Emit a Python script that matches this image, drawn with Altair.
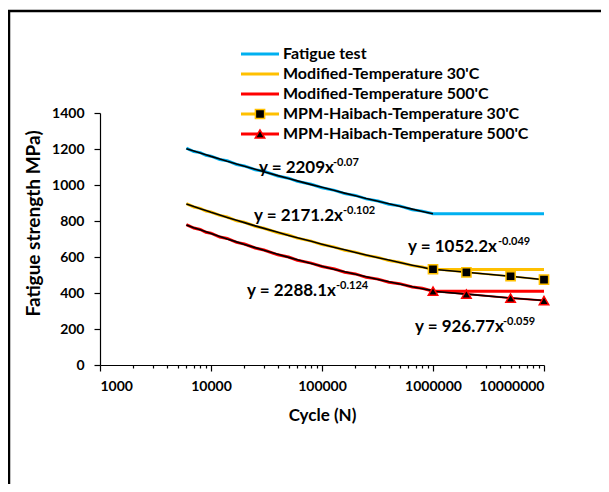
import altair as alt
import pandas as pd

FONT = "Lato"

series = ["Fatigue test", "Modified-Temperature 30'C", "Modified-Temperature 500'C",
          "MPM-Haibach-Temperature 30'C", "MPM-Haibach-Temperature 500'C"]
colors = ["#00B0F0", "#FFC000", "#FF0000", "#FFC000", "#FF0000"]

cycles = [6000, 7000, 8000, 9000, 10000, 12000, 14000, 17000, 20000, 25000, 30000, 40000,
          50000, 60000, 80000, 100000, 130000, 160000, 200000, 250000, 320000, 400000,
          500000, 650000, 800000, 1000000, 10000000]
fatigue_test = [1205, 1186, 1180, 1165, 1160, 1142, 1135, 1114, 1106, 1085, 1076, 1050,
                1038, 1020, 1004, 985, 970, 952, 942, 923, 911, 893, 884, 863, 855, 840, 840]
mod_30 = [896, 878, 870, 855, 850, 831, 822, 801, 793, 771, 760, 735,
          722, 705, 688, 669, 655, 637, 627, 609, 598, 580, 571, 552, 545, 530, 530]
mod_500 = [780, 761, 753, 737, 732, 711, 703, 681, 672, 650, 639, 612,
           600, 582, 566, 547, 533, 515, 506, 487, 477, 460, 452, 433, 426, 410, 410]

trend_x = [6000, 7000, 8000, 9000, 10000, 12000, 14000, 17000, 20000, 25000, 30000, 40000,
           50000, 60000, 80000, 100000, 130000, 160000, 200000, 250000, 320000, 400000,
           500000, 650000, 800000, 1000000]
trend_fatigue = [1201, 1189, 1178, 1168, 1159, 1145, 1132, 1117, 1104, 1087, 1074, 1052,
                 1036, 1023, 1002, 987, 969, 955, 940, 925, 910, 896, 882, 866, 853, 840]
trend_30 = [894, 880, 868, 858, 848, 833, 820, 804, 791, 773, 759, 737,
            720, 707, 687, 671, 653, 640, 625, 611, 596, 583, 569, 554, 543, 530]
trend_500 = [778, 763, 751, 740, 730, 714, 700, 684, 670, 652, 637, 615,
             598, 585, 564, 549, 531, 518, 504, 490, 475, 462, 450, 435, 424, 413]

mpm_x = [1000000, 2000000, 5000000, 10000000]
mpm_30 = [532, 515, 493, 474]
mpm_500 = [410, 394, 372, 358]

eq_main = ["y = 2209x", "y = 2171.2x", "y = 1052.2x", "y = 2288.1x", "y = 926.77x"]
eq_sup = ["-0.07", "-0.102", "-0.049", "-0.124", "-0.059"]
eq_x = [27060, 24400, 595500, 21100, 688000]
eq_y = [1069, 798, 626, 382, 183]
eq_dx = [74, 89, 90, 89, 88]

x_major = [1000, 10000, 100000, 1000000, 10000000]
x_minor = [m * d for d in [1000, 10000, 100000, 1000000] for m in range(1, 10)] + [10000000]
y_ticks = [0, 200, 400, 600, 800, 1000, 1200, 1400]

# ---- tables
rows = []
for name, vals in [(series[0], fatigue_test), (series[1], mod_30), (series[2], mod_500)]:
    for c, v in zip(cycles, vals):
        rows.append({"series": name, "cycle": c, "value": v})
df_lines = pd.DataFrame(rows)

rows = []
for name, vals in [(series[3], mpm_30), (series[4], mpm_500)]:
    for c, v in zip(mpm_x, vals):
        rows.append({"series": name, "cycle": c, "value": v})
df_mpm = pd.DataFrame(rows)

rows = []
for name, vals in [("t1", trend_fatigue), ("t2", trend_30), ("t3", trend_500)]:
    for c, v in zip(trend_x, vals):
        rows.append({"trend": name, "cycle": c, "value": v})
for name, vals in [("t4", mpm_30), ("t5", mpm_500)]:
    for c, v in zip(mpm_x, vals):
        rows.append({"trend": name, "cycle": c, "value": v})
df_trend = pd.DataFrame(rows)

df_eq = pd.DataFrame({"main": eq_main, "sup": eq_sup, "cycle": eq_x, "value": eq_y, "dx": eq_dx})
df_leg = pd.DataFrame({"series": series, "row": list(range(len(series)))})

color = alt.Color("series:N", scale=alt.Scale(domain=series, range=colors), legend=None)
xscale = alt.Scale(type="log", domain=[1000, 10000000], nice=False)
yscale = alt.Scale(domain=[0, 1400], nice=False)

major_test = "indexof([1000,10000,100000,1000000,10000000], datum.value) >= 0"

x_axis = alt.Axis(
    values=x_minor,
    tickCount=100,
    labelExpr=f"{major_test} ? format(datum.value, 'd') : ''",
    labelOverlap=False,
    tickSize={"condition": {"test": major_test, "value": 6}, "value": 3},
    title="Cycle (N)",
    titleFontSize=17,
    titleY=42,
    titleBaseline="top",
    labelPadding=8,
    grid=False,
)
y_axis = alt.Axis(
    values=y_ticks,
    tickCount=20,
    format="d",
    labelOverlap=False,
    title="Fatigue strength MPa)",
    titleFontSize=19,
    titleAngle=270,
    titleX=-57,
    titleY=110,
    titleAnchor="middle",
    titleBaseline="bottom",
    tickSize=6,
    labelPadding=10,
    grid=False,
)

base_lines = alt.Chart(df_lines).mark_line(strokeWidth=3).encode(
    x=alt.X("cycle:Q", scale=xscale, axis=x_axis),
    y=alt.Y("value:Q", scale=yscale, axis=y_axis),
    color=color,
    detail="series:N",
)
mpm_lines = alt.Chart(df_mpm).mark_line(strokeWidth=2).encode(
    x=alt.X("cycle:Q", scale=xscale), y=alt.Y("value:Q", scale=yscale), color=color)
trend_lines = alt.Chart(df_trend).mark_line(color="black", strokeWidth=1.6).encode(
    x=alt.X("cycle:Q", scale=xscale), y=alt.Y("value:Q", scale=yscale), detail="trend:N")
squares = alt.Chart(df_mpm[df_mpm.series == series[3]]).mark_point(
    shape="square", filled=True, fill="black", stroke="#FFC000", strokeWidth=1.5,
    size=85, opacity=1).encode(
    x=alt.X("cycle:Q", scale=xscale), y=alt.Y("value:Q", scale=yscale))
triangles = alt.Chart(df_mpm[df_mpm.series == series[4]]).mark_point(
    shape="triangle-up", filled=True, fill="black", stroke="#FF0000", strokeWidth=1.5,
    size=90, opacity=1).encode(
    x=alt.X("cycle:Q", scale=xscale), y=alt.Y("value:Q", scale=yscale))
eq_text = alt.Chart(df_eq).mark_text(
    align="left", baseline="alphabetic", font=FONT, fontWeight="bold", fontSize=17,
    color="black").encode(
    x=alt.X("cycle:Q", scale=xscale), y=alt.Y("value:Q", scale=yscale), text="main:N")

sup_layers = []
for i in range(len(eq_main)):
    sup_layers.append(
        alt.Chart(df_eq.iloc[[i]]).mark_text(
            align="left", baseline="alphabetic", font=FONT, fontWeight="bold", fontSize=11,
            color="black", dx=eq_dx[i], dy=-7).encode(
            x=alt.X("cycle:Q", scale=xscale), y=alt.Y("value:Q", scale=yscale), text="sup:N")
    )

main = alt.layer(base_lines, mpm_lines, trend_lines, squares, triangles, eq_text, *sup_layers)

leg_y = alt.Y("row:Q", scale=alt.Scale(domain=[0, 4], range=[-59, 21]), axis=None)
leg_rule = alt.Chart(df_leg).mark_rule(strokeWidth=3).encode(
    x=alt.value(141), x2=alt.value(179), y=leg_y, color=color)
leg_sq = alt.Chart(df_leg[df_leg.row == 3]).mark_point(
    shape="square", filled=True, fill="black", stroke="#FFC000", strokeWidth=1.5,
    size=85, opacity=1).encode(x=alt.value(160), y=leg_y)
leg_tri = alt.Chart(df_leg[df_leg.row == 4]).mark_point(
    shape="triangle-up", filled=True, fill="black", stroke="#FF0000", strokeWidth=1.5,
    size=90, opacity=1).encode(x=alt.value(160), y=leg_y)
leg_text = alt.Chart(df_leg).mark_text(
    align="left", baseline="middle", font=FONT, fontWeight="bold", fontSize=16,
    color="black").encode(x=alt.value(183), y=leg_y, text="series:N")
legend = alt.layer(leg_rule, leg_sq, leg_tri, leg_text)

border = alt.Chart(pd.DataFrame({"a": [0]})).mark_rect(
    fillOpacity=0, stroke="black", strokeWidth=2.5).encode(
    x=alt.value(-91), x2=alt.value(700), y=alt.value(-102), y2=alt.value(700))

chart = alt.layer(border, main, legend).resolve_scale(y="independent").properties(
    width=444, height=252,
    autosize=alt.AutoSizeParams(type="none"),
    padding={"left": 92, "top": 105, "right": 57, "bottom": 119},
    background="white",
).configure_view(stroke=None).configure_axis(
    labelFont=FONT, labelFontWeight="bold", labelFontSize=14, labelColor="black",
    titleFont=FONT, titleFontWeight="bold", titleColor="black",
    domainColor="black", tickColor="black", domainWidth=1.2, tickWidth=1.2,
)

chart.save("out.html", embed_options={"renderer": "svg", "actions": False})
